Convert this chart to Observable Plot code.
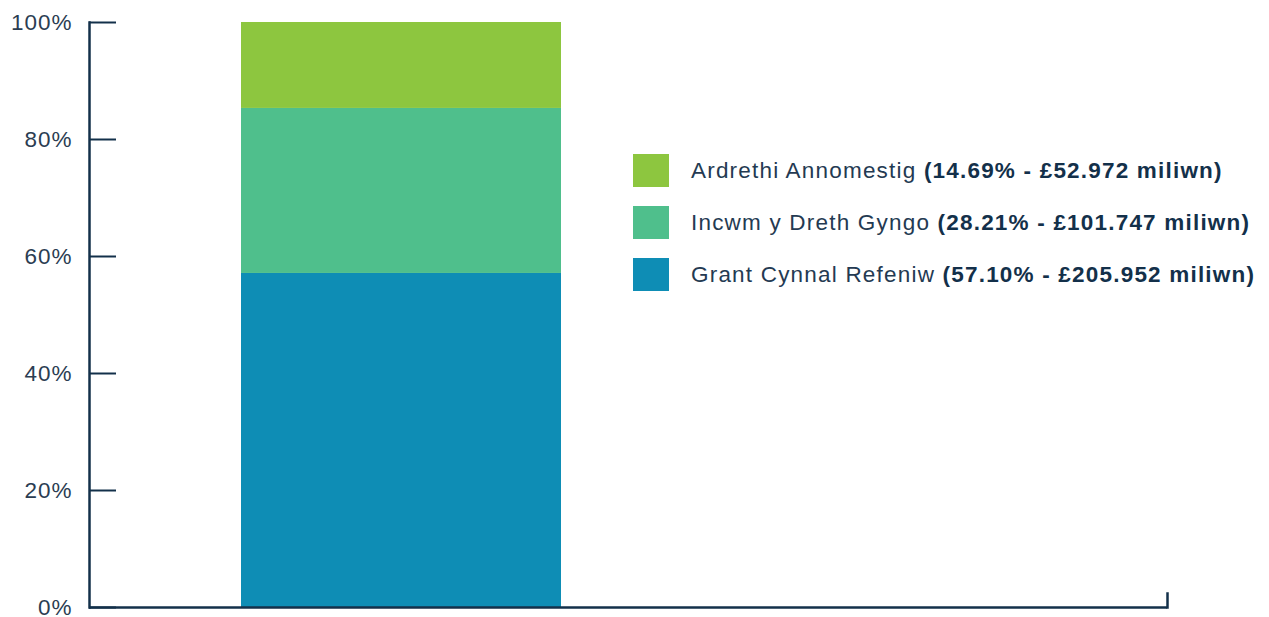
<!DOCTYPE html>
<html>
<head>
<meta charset="utf-8">
<script src="https://cdn.jsdelivr.net/npm/d3@7"></script>
<script src="https://cdn.jsdelivr.net/npm/@observablehq/plot@0.6"></script>
<style>
  html, body { margin: 0; padding: 0; background: #fff; }
  #wrap { position: relative; width: 1269px; height: 617px; font-family: "Liberation Sans", Arial, sans-serif; }
  #legend { position: absolute; left: 633px; top: 154px; color: #13304a; font-size: 22.5px; letter-spacing: 1.2px; }
  .row { display: flex; align-items: center; height: 33px; margin-bottom: 19px; white-space: nowrap; }
  .sw { width: 36px; height: 33px; margin-right: 22px; flex: none; }
  .row span.t { color: #243a52; }
  .row b { font-weight: bold; color: #13304a; }
  svg text { letter-spacing: 1px; }
</style>
</head>
<body>
<div id="wrap"></div>
<script>
const categories = ["Cyllid"];
const series = ["Grant Cynnal Refeniw", "Incwm y Dreth Gyngo", "Ardrethi Annomestig"];
const percents = [57.10, 28.21, 14.69];
const amounts = ["£205.952", "£101.747", "£52.972"];
const colors = ["#0e8db5", "#4fbf8c", "#8dc63f"];
const yTicks = [0, 20, 40, 60, 80, 100];

const data = series.map((s, i) => ({category: categories[0], series: s, value: percents[i]}));

const W = 1269, H = 617, mL = 89, mR = 102, mT = 22, mB = 10;
const axisColor = "#13304a";
const plotH = H - mT - mB;

const chart = Plot.plot({
  width: W,
  height: H,
  marginLeft: mL,
  marginRight: mR,
  marginTop: mT,
  marginBottom: mB,
  style: {fontFamily: "Liberation Sans, Arial, sans-serif", fontSize: "22.5px", color: "#2b3d52", background: "#fff", overflow: "visible"},
  x: {type: "band", domain: categories, range: [241, 561], padding: 0, axis: null},
  y: {domain: [0, 100], ticks: yTicks, label: null},
  color: {domain: series, range: colors},
  marks: [
    Plot.barY(data, {x: "category", y: "value", fill: "series", order: series}),
    Plot.axisY(yTicks, {tickSize: 0, tickPadding: 17, tickFormat: d => d + "%", fill: "#2b3d52", fontSize: 22.5, label: null}),
    Plot.tickY(yTicks, {y: d => d, stroke: axisColor, strokeWidth: 2, insetRight: W - mL - mR - 27}),
    Plot.frame({anchor: "left", stroke: axisColor, strokeWidth: 2.5}),
    Plot.frame({anchor: "right", stroke: axisColor, strokeWidth: 2.5, insetTop: plotH - 14}),
    Plot.ruleY([0], {stroke: axisColor, strokeWidth: 2.5})
  ]
});

const wrap = document.getElementById("wrap");
wrap.appendChild(chart);

const legend = document.createElement("div");
legend.id = "legend";
for (let i = series.length - 1; i >= 0; i--) {
  const row = document.createElement("div");
  row.className = "row";
  row.innerHTML = `<div class="sw" style="background:${colors[i]}"></div><span class="t">${series[i]} <b>(${percents[i].toFixed(2)}% - ${amounts[i]} miliwn)</b></span>`;
  legend.appendChild(row);
}
wrap.appendChild(legend);
</script>
</body>
</html>
